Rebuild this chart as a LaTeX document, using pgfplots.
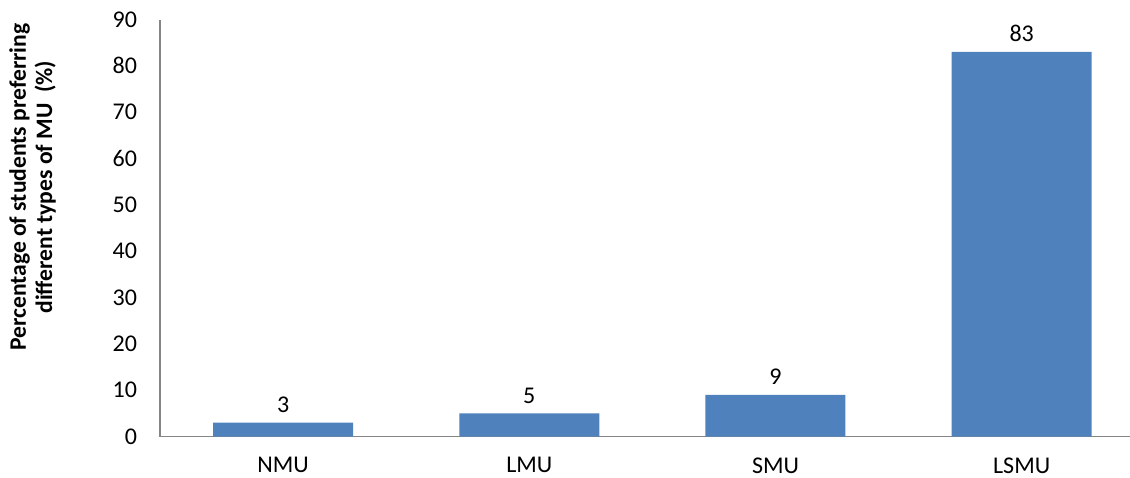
\documentclass[border=0pt]{standalone}
\usepackage{pgfplots}
\pgfplotsset{compat=1.18}
\usepackage{fontspec}
\setmainfont{Carlito}
\definecolor{barblue}{HTML}{4F81BD}
\definecolor{axisgray}{HTML}{868686}
\begin{document}
\begin{tikzpicture}
\begin{axis}[
  scale only axis,
  width=485pt, height=208.5pt,
  at={(0,0)}, anchor=south west,
  ymin=0, ymax=90, ytick={0,10,...,90},
  xmin=-0.5, xmax=3.44,
  xtick=data,
  xticklabels={NMU,LMU,SMU,LSMU},
  axis x line*=bottom, axis y line*=left,
  axis line style={axisgray, line width=0.8pt, -},
  major tick length=0pt,
  ticklabel style={font=\fontsize{12}{14}\selectfont},
  /pgf/number format/assume math mode=true,
  yticklabel style={xshift=-8pt},
  xticklabel style={yshift=-7pt},
  ybar, bar width=70pt,
  nodes near coords,
  every node near coord/.append style={font=\fontsize{12}{14}\selectfont, text=black, yshift=1.5pt},
  ylabel={Percentage of students preferring\\different types of MU~~(\%)},
  ylabel style={font=\fontsize{11.8}{13.2}\selectfont\bfseries, align=center,
    at={(axis description cs:-0.1314,0.598)}, anchor=center, rotate=0},
  clip=false,
]
\addplot[fill=barblue, draw=none] coordinates {(0,3) (1,5) (2,9) (3,83)};
\end{axis}
\pgfresetboundingbox
\path (-80pt,-20.25pt) rectangle (485pt,218.25pt);
\end{tikzpicture}
\end{document}
